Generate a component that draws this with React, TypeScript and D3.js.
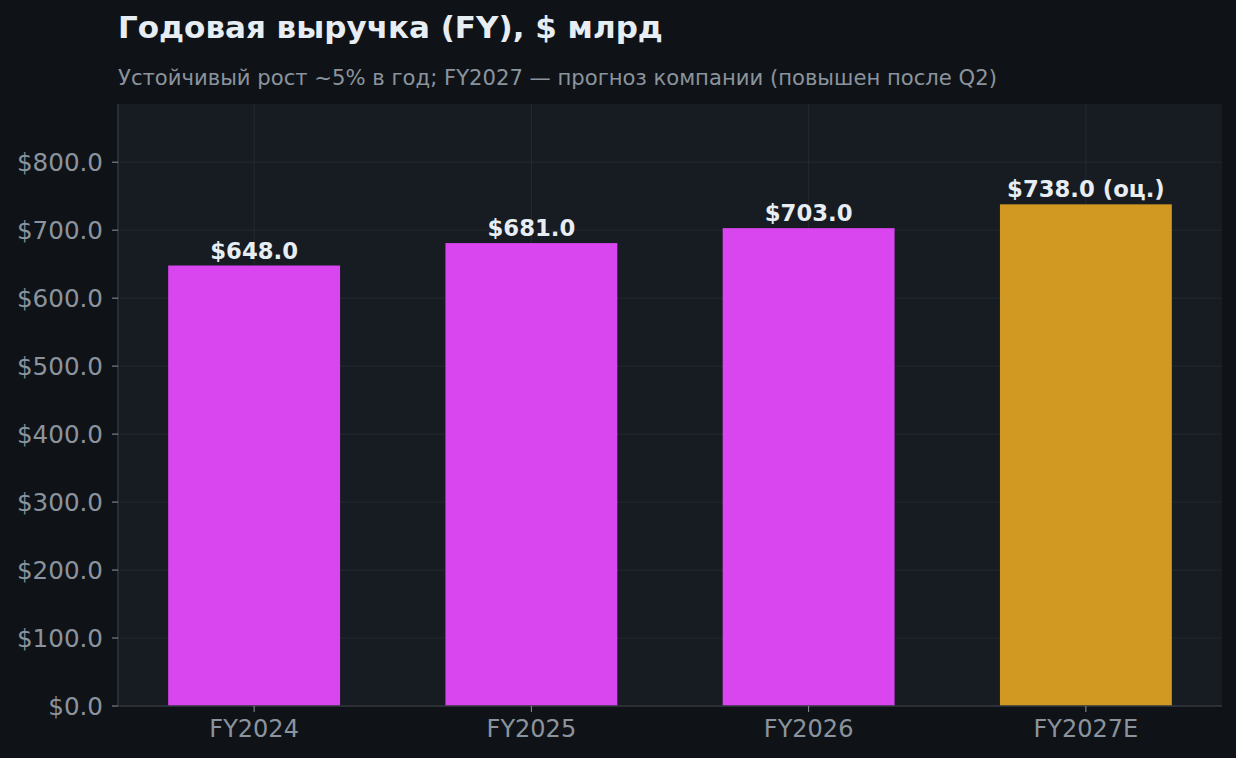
import * as d3 from 'd3'

const categories = ['FY2024', 'FY2025', 'FY2026', 'FY2027E']
const revenue = [648.0, 681.0, 703.0, 738.0]
const isEstimate = [false, false, false, true]
const yTicks = [0, 100, 200, 300, 400, 500, 600, 700, 800]

const W = 1236
const H = 758
const margin = { top: 104, right: 14, bottom: 52, left: 118 }

export default function App() {
  const innerW = W - margin.left - margin.right
  const innerH = H - margin.top - margin.bottom

  // matplotlib style: bar width 0.62, 5% margins
  const barW = 0.62
  const lo = -barW / 2
  const hi = categories.length - 1 + barW / 2
  const pad = (hi - lo) * 0.05
  const x = d3.scaleLinear().domain([lo - pad, hi + pad]).range([0, innerW])
  const y = d3
    .scaleLinear()
    .domain([0, d3.max(revenue)! * 1.2])
    .range([innerH, 0])

  const fmt = (v: number) => '$' + v.toFixed(1)

  return (
    <svg
      width={W}
      height={H}
      style={{ position: 'absolute', left: 0, top: 0, fontFamily: 'DejaVu Sans' }}
    >
      <rect width={W} height={H} fill="#0f1317" />
      <text x={margin.left} y={38} fill="#e6edf3" fontSize={31} fontWeight="bold">
        Годовая выручка (FY), $ млрд
      </text>
      <text x={margin.left} y={84.5} fill="#8b949e" fontSize={21.15}>
        Устойчивый рост ~5% в год; FY2027 — прогноз компании (повышен после Q2)
      </text>
      <g transform={`translate(${margin.left},${margin.top})`}>
        <rect width={innerW} height={innerH} fill="#171b22" />
        {yTicks.map((t) => (
          <line
            key={'gy' + t}
            x1={0}
            x2={innerW}
            y1={y(t)}
            y2={y(t)}
            stroke="#30363d"
            strokeOpacity={0.55}
            strokeWidth={1}
          />
        ))}
        {categories.map((c, i) => (
          <line
            key={'gx' + c}
            x1={x(i)}
            x2={x(i)}
            y1={0}
            y2={innerH}
            stroke="#30363d"
            strokeOpacity={0.55}
            strokeWidth={1}
          />
        ))}
        {categories.map((c, i) => (
          <rect
            key={'b' + c}
            x={x(i - barW / 2)}
            y={y(revenue[i])}
            width={x(barW) - x(0)}
            height={innerH - y(revenue[i])}
            fill={isEstimate[i] ? '#d29922' : '#d946ef'}
          />
        ))}
        {categories.map((c, i) => (
          <text
            key={'l' + c}
            x={x(i)}
            y={y(revenue[i]) - 7}
            textAnchor="middle"
            fill="#e6edf3"
            fontSize={22.75}
            fontWeight="bold"
          >
            {fmt(revenue[i]) + (isEstimate[i] ? ' (оц.)' : '')}
          </text>
        ))}
        <line x1={0} x2={0} y1={0} y2={innerH} stroke="#30363d" strokeWidth={1.5} />
        <line x1={0} x2={innerW} y1={innerH} y2={innerH} stroke="#30363d" strokeWidth={1.5} />
        {yTicks.map((t) => (
          <g key={'ty' + t} transform={`translate(0,${y(t)})`}>
            <line x1={-6} x2={0} stroke="#8b949e" strokeWidth={1} />
            <text x={-15} dy="0.36em" textAnchor="end" fill="#8b949e" fontSize={24.6}>
              {fmt(t)}
            </text>
          </g>
        ))}
        {categories.map((c, i) => (
          <g key={'tx' + c} transform={`translate(${x(i)},${innerH})`}>
            <line y1={0} y2={6} stroke="#8b949e" strokeWidth={1} />
            <text y={31} textAnchor="middle" fill="#8b949e" fontSize={24}>
              {c}
            </text>
          </g>
        ))}
      </g>
    </svg>
  )
}
